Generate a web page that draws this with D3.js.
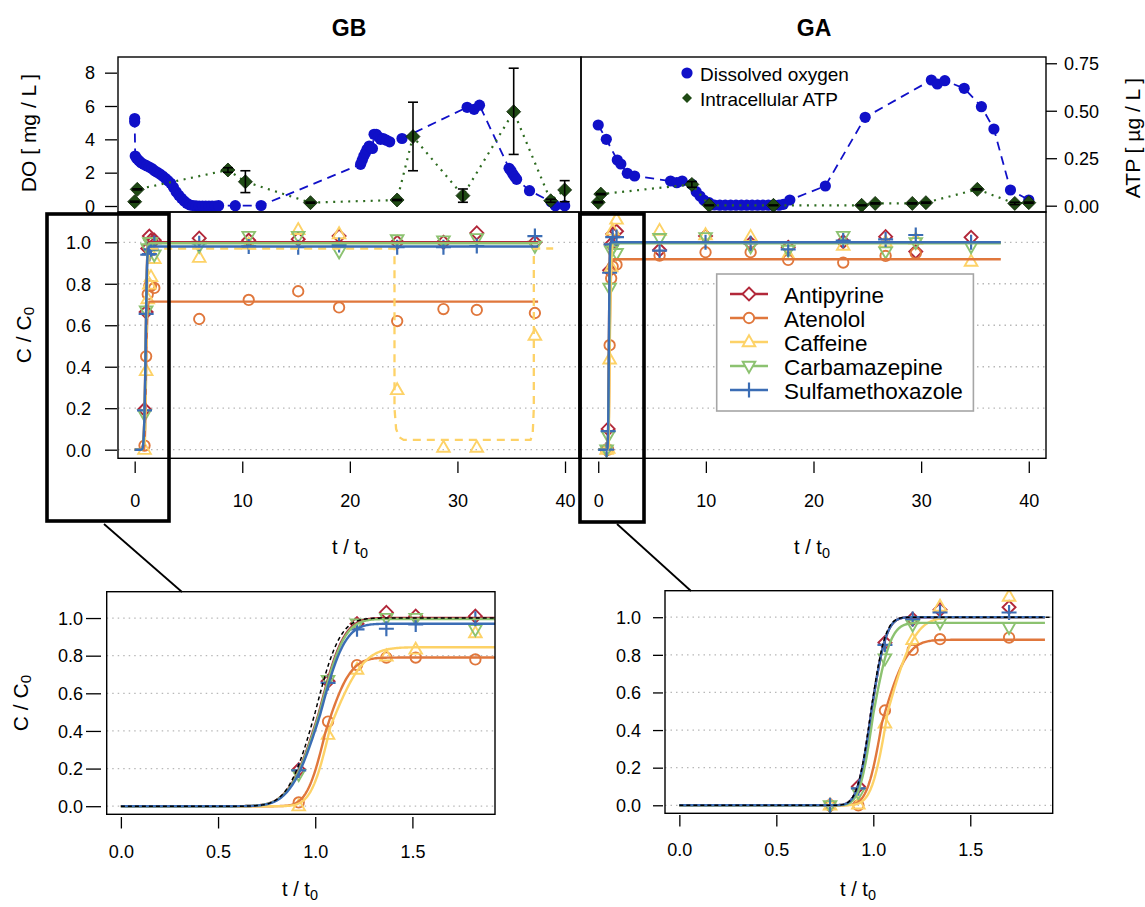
<!DOCTYPE html>
<html><head><meta charset="utf-8">
<script src="https://cdn.jsdelivr.net/npm/d3@7"></script>
<style>
body{margin:0;background:#fff}
svg{display:block}
text{font-family:"Liberation Sans",Arial,Helvetica,sans-serif;fill:#000}
</style>
</head><body>
<svg id="chart" width="1145" height="907"></svg>
<script>
// ---------------- DATA ----------------
// Top panels: dissolved oxygen (mg/L) vs t/t0
const doGB_t = [0,0,0.05,0.2,0.4,0.6,0.85,1.1,1.35,1.6,1.85,2.1,2.35,2.6,2.85,3.1,3.35,3.6,3.85,4.1,4.35,4.6,4.85,5.1,5.4,5.7,6.0,6.3,6.6,6.9,7.2,7.5,7.8,9.35,11.75,
  21.0,21.15,21.3,21.45,21.6,21.8,21.95,22.1,22.25,22.45,22.65,22.85,23.1,23.4,23.7,24.85,30.9,31.55,32.05,34.8,34.98,35.15,35.33,35.5,36.7,38.7,39.1,39.97];
const doGB_v = [5.25,5.05,3.0,2.85,2.72,2.6,2.5,2.42,2.34,2.25,2.12,2.02,1.92,1.8,1.66,1.52,1.36,1.12,0.86,0.64,0.46,0.3,0.16,0.07,0.03,0.01,0,0,0,0,0,0,0.02,0.02,0.03,
  2.5,2.75,3.0,3.2,3.4,3.6,3.5,3.45,4.3,4.3,4.15,4.0,4.05,3.95,3.85,4.05,5.92,5.8,6.05,2.26,2.12,1.92,1.76,1.6,0.92,0.26,0.02,0.02];
const doGA_t = [0,0.75,1.77,2.1,2.7,3.38,6.72,7.3,7.8,8.7,9.1,9.45,9.8,10.3,10.8,11.3,11.8,12.3,12.8,13.3,13.8,14.3,14.8,15.3,15.8,16.3,16.8,17.2,17.8,21.1,24.8,30.95,31.5,32.2,34.0,35.6,36.76,38.3,40.0];
const doGA_v = [4.86,4.0,2.76,2.52,1.96,1.8,1.5,1.4,1.5,1.3,0.86,0.6,0.36,0.2,0.06,0.05,0.05,0.05,0.05,0.05,0.05,0.05,0.05,0.05,0.05,0.05,0.05,0.1,0.36,1.2,5.32,7.56,7.32,7.52,7.06,5.96,4.62,0.96,0.36];
// Intracellular ATP (µg/L) with error bars
const atpGB_t  = [0,0.24,8.67,10.29,16.34,24.39,25.87,30.51,35.23,38.67,39.97];
const atpGB_v  = [0.021,0.086,0.188,0.126,0.016,0.030,0.364,0.053,0.495,0.026,0.083];
const atpGB_lo = [0.018,0.083,0.176,0.069,0.013,0.027,0.184,0.018,0.270,0.018,0.021];
const atpGB_hi = [0.024,0.089,0.200,0.184,0.019,0.033,0.545,0.088,0.724,0.034,0.132];
const atpGA_t  = [0,0.24,8.7,10.31,16.28,24.47,25.73,29.18,30.44,35.22,38.7,40.0];
const atpGA_v  = [0.018,0.061,0.112,0.002,0.002,0.002,0.012,0.012,0.016,0.086,0.012,0.016];
const atpGA_lo = [0.015,0.058,0.097,0.000,0.000,0.000,0.009,0.009,0.013,0.083,0.006,0.013];
const atpGA_hi = [0.021,0.064,0.127,0.004,0.004,0.004,0.015,0.015,0.019,0.089,0.018,0.019];

// Breakthrough data C/C0
const compounds = ["Antipyrine","Atenolol","Caffeine","Carbamazepine","Sulfamethoxazole"];
const gbT = [0.915,1.066,1.215,1.366,1.517,1.824,6.0,10.6,15.2,19.0,24.4,28.7,31.8,37.2];
const gbAntipyrine      = [0.194,0.664,0.97,1.03,1.01,1.01,1.02,1.01,1.015,1.03,1.0,1.0,1.045,1.0];
const gbAtenolol        = [0.02,0.45,0.75,0.79,0.79,0.78,0.63,0.722,0.764,0.686,0.62,0.678,0.674,0.659];
const gbCaffeine        = [0.0,0.38,0.726,0.797,0.833,0.92,0.926,0.99,1.06,1.04,0.288,0.01,0.01,0.55];
const gbCarbamazepine   = [0.17,0.67,0.97,1.0,1.0,0.94,0.982,1.03,1.03,0.955,1.014,1.008,1.019,0.982];
const gbSulfamethoxazole= [0.19,0.655,0.94,0.943,0.966,0.996,0.995,0.98,0.976,0.987,0.976,0.976,0.982,1.03];
const gaT = [0.777,0.923,1.06,1.203,1.344,1.70,5.7,9.97,14.16,17.65,22.76,26.7,29.5,34.64];
const gaAntipyrine      = [0.0,0.1,0.865,0.99,1.04,1.053,0.963,1.03,0.995,0.976,1.003,1.027,0.955,1.024];
const gaAtenolol        = [0.0,0.0,0.504,0.826,0.883,0.892,0.936,0.952,0.952,0.915,0.902,0.934,0.947,null];
const gaCaffeine        = [0.0,0.005,0.436,0.88,1.057,1.11,1.056,1.035,1.027,0.94,0.984,1.0,1.014,0.907];
const gaCarbamazepine   = [0.0,0.067,0.78,0.96,0.972,0.947,1.02,1.024,0.98,0.963,1.03,0.955,1.0,0.98];
const gaSulfamethoxazole= [0.0,0.09,0.853,0.99,1.025,1.025,0.96,1.0,0.995,0.966,1.008,1.014,1.035,1.0];

// Fitted breakthrough model parameters (plateau, midpoint, left/right spread)
const gbInsetPlateau = [1.0,0.79,0.845,0.995,0.97];
const gbMainPlateau  = [1.0,0.714,0.97,0.995,0.98];
const gbMid  = [1.02,1.053,1.078,1.022,1.025];
const gbSigL = [0.12,0.075,0.077,0.12,0.12];
const gbSigR = [0.10,0.10,0.133,0.10,0.10];
const gbTracer = [1.0,1.0,0.11,0.10];
const gaInsetPlateau = [1.0,0.88,1.0,0.97,1.0];
const gaMainPlateau  = [1.0,0.918,1.0,0.995,1.0];
const gaMid  = [0.99,1.045,1.075,1.0,0.99];
const gaSigL = [0.055,0.06,0.065,0.055,0.055];
const gaSigR = [0.06,0.10,0.11,0.07,0.06];
const gaTracer = [1.0,0.988,0.055,0.058];
// Caffeine (GB) degradation episode, dashed fit
const cafGB_t = [24.15,24.15,24.3,24.6,25.0,36.8,37.0,37.1,37.1,38.9];
const cafGB_c = [0.97,0.2,0.1,0.06,0.047,0.047,0.08,0.2,0.97,0.97];

const midTicks = [0,0.2,0.4,0.6,0.8,1.0];
const mainXTicks = [0,10,20,30,40];
const insetXTicks = [0,0.5,1.0,1.5];
const doTicks = [0,2,4,6,8];
const atpTicks = [0,0.25,0.5,0.75];

// ---------------- STYLE ----------------
const colors = ["#b2283a","#e0773c","#fdd267","#8cc270","#3b6db5"];
const shapes = ["diamond","circle","triUp","triDown","plus"];
const doColor = "#1010c8", atpColor = "#1f4a14", atpLine = "#2d6b1f";
const tickFont = "18px";

const svg = d3.select("#chart");
const defs = svg.append("defs");

// ---------------- SCALES ----------------
const xL = d3.scaleLinear().domain([-1.55,41.3]).range([118,579]);
const xR = d3.scaleLinear().domain([-1.6,41.6]).range([581,1046]);
const yDO = d3.scaleLinear().domain([-0.36,8.94]).range([212,57]);
const yATP = d3.scaleLinear().domain([-0.0332,0.783]).range([212,57]);
const yMid = d3.scaleLinear().domain([-0.0415,1.146]).range([458.3,212]);
const xIL = d3.scaleLinear().domain([-0.073,1.925]).range([106.7,495]);
const yIL = d3.scaleLinear().domain([-0.043,1.14]).range([814.3,591.7]);
const xIR = d3.scaleLinear().domain([-0.074,1.925]).range([665,1052.7]);
const yIR = d3.scaleLinear().domain([-0.0426,1.141]).range([813.3,590.7]);

function clip(id,x0,x1,y0,y1){
  defs.append("clipPath").attr("id",id).append("rect")
    .attr("x",x0).attr("y",y0).attr("width",x1-x0).attr("height",y1-y0);
  return svg.append("g").attr("clip-path",`url(#${id})`);
}
function box(x0,x1,y0,y1,w){
  svg.append("rect").attr("x",x0).attr("y",y0).attr("width",x1-x0).attr("height",y1-y0)
    .attr("fill","none").attr("stroke","#000").attr("stroke-width",w||1.4);
}
function erf(x){
  const s = x<0?-1:1; x=Math.abs(x);
  const t=1/(1+0.3275911*x);
  const y=1-(((((1.061405429*t-1.453152027)*t)+1.421413741)*t-0.284496736)*t+0.254829592)*t*Math.exp(-x*x);
  return s*y;
}
function fit(t,P,mu,sL,sR){
  const s = t<mu?sL:sR;
  return P*0.5*(1+erf((t-mu)/(s*Math.SQRT2)));
}
function sampleT(tEnd){
  return d3.range(0,2.6,0.005).filter(v=>v<tEnd).concat([tEnd]);
}
function marker(g,shape,x,y,col,fill){
  const s=6.5;
  if(shape==="circle"){
    g.append("circle").attr("cx",x).attr("cy",y).attr("r",5.2)
      .attr("fill",fill||"none").attr("stroke",col).attr("stroke-width",1.9);
    return;
  }
  let d;
  if(shape==="diamond") d=`M${x},${y-s}L${x+s},${y}L${x},${y+s}L${x-s},${y}Z`;
  else if(shape==="triUp") d=`M${x},${y-6.8}L${x+6.3},${y+4.2}L${x-6.3},${y+4.2}Z`;
  else if(shape==="triDown") d=`M${x},${y+6.8}L${x+6.3},${y-4.2}L${x-6.3},${y-4.2}Z`;
  else d=`M${x-7.5},${y}H${x+7.5}M${x},${y-7.5}V${y+7.5}`;
  g.append("path").attr("d",d).attr("fill",shape==="plus"?"none":(fill||"none"))
    .attr("stroke",col).attr("stroke-width",shape==="plus"?2.2:1.9);
}

// ---------------- TITLES ----------------
svg.append("text").attr("x",349).attr("y",28).attr("text-anchor","middle").attr("dominant-baseline","central")
  .style("font-weight","bold").style("font-size","23px").text("GB");
svg.append("text").attr("x",814).attr("y",28).attr("text-anchor","middle").attr("dominant-baseline","central")
  .style("font-weight","bold").style("font-size","23px").text("GA");

// ---------------- TOP PANELS ----------------
function topPanel(id,x,tDO,vDO,tA,vA,lo,hi,x0,x1){
  const g = clip(id,x0,x1,57,212);
  const lineDO = d3.line().x((d,i)=>x(tDO[i])).y((d,i)=>yDO(vDO[i]));
  g.append("path").attr("d",lineDO(tDO)).attr("fill","none").attr("stroke",doColor)
    .attr("stroke-width",1.8).attr("stroke-dasharray","9,6");
  tDO.forEach((t,i)=>g.append("circle").attr("cx",x(t)).attr("cy",yDO(vDO[i])).attr("r",5.6).attr("fill",doColor));
  const lineA = d3.line().x((d,i)=>x(tA[i])).y((d,i)=>yATP(vA[i]));
  g.append("path").attr("d",lineA(tA)).attr("fill","none").attr("stroke",atpLine)
    .attr("stroke-width",2.2).attr("stroke-dasharray","2,5.5");
  tA.forEach((t,i)=>{
    const cx=x(t), cy=yATP(vA[i]), s=7;
    g.append("path").attr("d",`M${cx},${cy-s}L${cx+s},${cy}L${cx},${cy+s}L${cx-s},${cy}Z`)
      .attr("fill",atpColor).attr("stroke","#0e2608").attr("stroke-width",0.8);
  });
  tA.forEach((t,i)=>{
    const cx=x(t), a=yATP(lo[i]), b=yATP(hi[i]);
    g.append("line").attr("x1",cx).attr("x2",cx).attr("y1",a).attr("y2",b).attr("stroke","#000").attr("stroke-width",1.6);
    [a,b].forEach(yy=>g.append("line").attr("x1",cx-5).attr("x2",cx+5).attr("y1",yy).attr("y2",yy).attr("stroke","#000").attr("stroke-width",1.6));
  });
}
topPanel("cTL",xL,doGB_t,doGB_v,atpGB_t,atpGB_v,atpGB_lo,atpGB_hi,118,581);
topPanel("cTR",xR,doGA_t,doGA_v,atpGA_t,atpGA_v,atpGA_lo,atpGA_hi,581,1046);
box(118,581,57,212); box(581,1046,57,212);

// DO axis
const gDO = svg.append("g").attr("transform","translate(117,0)")
  .call(d3.axisLeft(yDO).tickValues(doTicks).tickSize(12).tickFormat(d3.format("d")));
gDO.select(".domain").remove();
gDO.selectAll("line").attr("stroke-width",1.3);
gDO.selectAll("text").attr("x",-22).attr("dy","0.35em").style("font-size",tickFont).style("font-family","Liberation Sans, Arial, sans-serif");
// ATP axis
const gATP = svg.append("g").attr("transform","translate(1046,0)")
  .call(d3.axisRight(yATP).tickValues(atpTicks).tickSize(11).tickFormat(d3.format(".2f")));
gATP.select(".domain").remove();
gATP.selectAll("line").attr("stroke-width",1.3);
gATP.selectAll("text").attr("x",18).attr("dy","0.35em").style("font-size",tickFont).style("font-family","Liberation Sans, Arial, sans-serif");

svg.append("text").attr("transform","translate(28,133) rotate(-90)").attr("text-anchor","middle")
  .attr("dominant-baseline","central").style("font-size","21px").text("DO [ mg / L ]");
svg.append("text").attr("transform","translate(1132,138) rotate(-90)").attr("text-anchor","middle")
  .attr("dominant-baseline","central").style("font-size","21px").text("ATP [ µg / L ]");

// top legend
svg.append("circle").attr("cx",687).attr("cy",73).attr("r",5.6).attr("fill",doColor);
svg.append("path").attr("d","M687,93L692,98L687,103L682,98Z").attr("fill",atpColor);
svg.append("text").attr("x",700).attr("y",74).attr("dominant-baseline","central").style("font-size","19px").text("Dissolved oxygen");
svg.append("text").attr("x",700).attr("y",99).attr("dominant-baseline","central").style("font-size","19px").text("Intracellular ATP");

// ---------------- MIDDLE PANELS ----------------
function grid(g,x0,x1,y,ticks){
  ticks.forEach(v=>g.append("line").attr("x1",x0).attr("x2",x1).attr("y1",y(v)).attr("y2",y(v))
    .attr("stroke","#b8b8b8").attr("stroke-width",1.3).attr("stroke-dasharray","1.5,4"));
}
function breakthrough(g,x,y,T,series,plat,mid,sL,sR,tEnd,tracer,extra){
  series.forEach((vals,k)=>{
    vals.forEach((v,i)=>{ if(v!==null) marker(g,shapes[k],x(T[i]),y(v),colors[k]); });
  });
  const ts = sampleT(tEnd);
  series.forEach((vals,k)=>{
    let d;
    if(extra && k===2){
      const early = ts.filter(t=>t<extra.t[0]);
      const xs = early.concat(extra.t);
      const cs = early.map(t=>fit(t,plat[k],mid[k],sL[k],sR[k])).concat(extra.c);
      d = d3.line().x((q,i)=>x(xs[i])).y((q,i)=>y(cs[i]))(xs);
      g.append("path").attr("d",d).attr("fill","none").attr("stroke",colors[k])
        .attr("stroke-width",2.3).attr("stroke-dasharray","8,6");
      return;
    }
    d = d3.line().x(t=>x(t)).y(t=>y(fit(t,plat[k],mid[k],sL[k],sR[k])))(ts);
    g.append("path").attr("d",d).attr("fill","none").attr("stroke",colors[k]).attr("stroke-width",2.4);
  });
  if(tracer){
    const d = d3.line().x(t=>x(t)).y(t=>y(fit(t,tracer[0],tracer[1],tracer[2],tracer[3])))(sampleT(tEnd+0.05));
    g.append("path").attr("d",d).attr("fill","none").attr("stroke","#000").attr("stroke-width",1.5).attr("stroke-dasharray","4,3");
  }
}
const gbSeries = [gbAntipyrine,gbAtenolol,gbCaffeine,gbCarbamazepine,gbSulfamethoxazole];
const gaSeries = [gaAntipyrine,gaAtenolol,gaCaffeine,gaCarbamazepine,gaSulfamethoxazole];

const gML = clip("cML",118,579,212,458.3);
grid(gML,118,579,yMid,midTicks);
breakthrough(gML,xL,yMid,gbT,gbSeries,gbMainPlateau,gbMid,gbSigL,gbSigR,37.5,null,{t:cafGB_t,c:cafGB_c});
const gMR = clip("cMR",581,1046,212,458.3);
grid(gMR,581,1046,yMid,midTicks);
breakthrough(gMR,xR,yMid,gaT,gaSeries,gaMainPlateau,gaMid,gaSigL,gaSigR,37.4,null,null);
box(118,579,212,458.3); box(581,1046,212,458.3);

function xAxis(x,yPos,ticks,fmt,labelY,size){
  const g = svg.append("g").attr("transform",`translate(0,${yPos})`)
    .call(d3.axisBottom(x).tickValues(ticks).tickSize(size).tickFormat(fmt));
  g.select(".domain").remove();
  g.selectAll("line").attr("stroke-width",1.3);
  g.selectAll("text").attr("y",labelY-yPos).attr("dy","0.35em").style("font-size",tickFont).style("font-family","Liberation Sans, Arial, sans-serif");
}
function yAxis(y,xPos,ticks,labelX,size){
  const g = svg.append("g").attr("transform",`translate(${xPos},0)`)
    .call(d3.axisLeft(y).tickValues(ticks).tickSize(size).tickFormat(d3.format(".1f")));
  g.select(".domain").remove();
  g.selectAll("line").attr("stroke-width",1.3);
  g.selectAll("text").attr("x",labelX-xPos).attr("dy","0.35em").style("font-size",tickFont).style("font-family","Liberation Sans, Arial, sans-serif");
}
xAxis(xL,461.5,mainXTicks,d3.format("d"),501,11.5);
xAxis(xR,461.5,mainXTicks,d3.format("d"),501,11.5);
yAxis(yMid,117,midTicks,91,12);

function ctitle(x,y,size){
  const t = svg.append("text").attr("transform",`translate(${x},${y}) rotate(-90)`).attr("text-anchor","middle")
    .attr("dominant-baseline","central").style("font-size",size+"px");
  t.append("tspan").text("C / C");
  t.append("tspan").attr("dy",5).style("font-size",(size*0.72)+"px").text("0");
}
function ttitle(x,y,size){
  const t = svg.append("text").attr("x",x).attr("y",y).attr("text-anchor","middle").style("font-size",size+"px");
  t.append("tspan").text("t / t");
  t.append("tspan").attr("dy",4).style("font-size",(size*0.72)+"px").text("0");
}
ctitle(23,335,21);
ttitle(350,554,20);
ttitle(812,554,20);

// middle legend
svg.append("rect").attr("x",716.7).attr("y",274).attr("width",256.7).attr("height",137)
  .attr("fill","#fff").attr("stroke","#a6a6a6").attr("stroke-width",1.6);
const legG = svg.append("g");
compounds.forEach((c,k)=>{
  const yy = 294 + k*24;
  legG.append("line").attr("x1",730).attr("x2",768).attr("y1",yy).attr("y2",yy).attr("stroke",colors[k]).attr("stroke-width",2.3);
  marker(legG,shapes[k],749,yy,colors[k],"#fff");
  legG.append("text").attr("x",784).attr("y",yy+1).attr("dominant-baseline","central").style("font-size","22.5px").text(c);
});

// zoom boxes and connectors
box(47,169,214,521,3.6);
box(580,644,214,522,3.6);
svg.append("line").attr("x1",104).attr("y1",524).attr("x2",182).attr("y2",592).attr("stroke","#000").attr("stroke-width",1.8);
svg.append("line").attr("x1",617).attr("y1",524).attr("x2",691).attr("y2",591).attr("stroke","#000").attr("stroke-width",1.8);

// ---------------- INSETS ----------------
const gIL = clip("cIL",106.7,495,591.7,814.3);
grid(gIL,106.7,495,yIL,midTicks);
breakthrough(gIL,xIL,yIL,gbT.slice(0,6),gbSeries.map(s=>s.slice(0,6)),gbInsetPlateau,gbMid,gbSigL,gbSigR,1.93,gbTracer,null);
box(106.7,495,591.7,814.3);
const gIR = clip("cIR",665,1052.7,590.7,813.3);
grid(gIR,665,1052.7,yIR,midTicks);
breakthrough(gIR,xIR,yIR,gaT.slice(0,6),gaSeries.map(s=>s.slice(0,6)),gaInsetPlateau,gaMid,gaSigL,gaSigR,1.885,gaTracer,null);
box(665,1052.7,590.7,813.3);

xAxis(xIL,817,insetXTicks,d3.format(".1f"),852,11.5);
xAxis(xIR,815,insetXTicks,d3.format(".1f"),850,11.5);
yAxis(yIL,101,midTicks,83,15);
yAxis(yIR,663,midTicks,641,10);
ctitle(20,703,21);
ttitle(300,896,20);
ttitle(858,896,20);
</script>
</body></html>
